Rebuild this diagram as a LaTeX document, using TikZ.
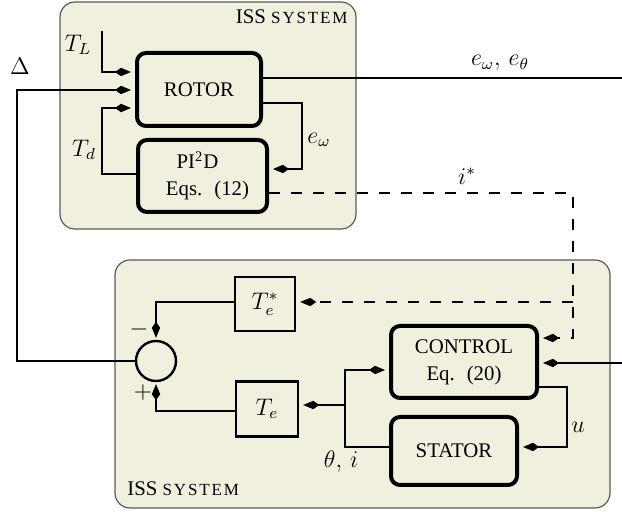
\documentclass[tikz,border=0pt]{standalone}
\usepackage{fontspec}
\setmainfont{Liberation Serif}
\usetikzlibrary{arrows.meta}
\definecolor{panelfill}{RGB}{241,239,222}
\definecolor{panelline}{RGB}{90,90,90}
\newcommand{\isssys}{ISS {\fontsize{8.5}{10}\selectfont\addfontfeatures{LetterSpace=11}SYSTEM}}
\begin{document}
\begin{tikzpicture}[x=0.5pt,y=-0.5pt,
  panel/.style={fill=panelfill,draw=panelline,line width=0.6pt,rounded corners=7.5pt},
  bigbox/.style={draw,line width=2pt,rounded corners=4.5pt,align=center,font=\fontsize{10.4}{13.5}\selectfont,inner sep=0pt},
  smallbox/.style={draw,line width=1.2pt,inner sep=0pt,font=\fontsize{11.5}{13}\selectfont},
  wire/.style={line width=1pt},
  arr/.style={wire,-{Kite[length=8pt,width=4.2pt,inset=3pt]},shorten >=2pt},
  dwire/.style={dash pattern=on 5.5pt off 5.5pt},
  lbl/.style={font=\fontsize{11.5}{13}\selectfont,inner sep=0pt},
  ptitle/.style={font=\fontsize{10.4}{12}\selectfont,inner sep=0pt},
]
\useasboundingbox (0,0) rectangle (622,512);

% panels
\draw[panel] (60,2) rectangle (356,229);
\draw[panel] (115,260) rectangle (610,508);
\node[ptitle,anchor=base east] (t1) at (348,24) {\isssys};
\node[ptitle,anchor=base west] (t2) at (127,496) {\isssys};

% blocks
\node[bigbox,minimum width=62pt,minimum height=36.5pt] (rotor) at (199,89.5) {ROTOR};
\node[bigbox,minimum width=64.5pt,minimum height=36pt] (pid) at (202.5,176)
  {PI\textsuperscript{2}D\hspace*{5pt}\\\hspace*{5pt}Eqs.\hspace{6pt}(12)};
\node[bigbox,minimum width=73pt,minimum height=36pt] (ctrl) at (464,362) {CONTROL\\Eq.\hspace{6pt}(20)};
\node[bigbox,minimum width=63pt,minimum height=34pt] (stator) at (454,451) {STATOR};
\node[smallbox,minimum width=30pt,minimum height=27pt] (tes) at (265,304) {$T_e^*$};
\node[smallbox,minimum width=31pt,minimum height=27.5pt] (te) at (267,409) {$T_e$};
\node[draw,circle,line width=1.2pt,minimum size=20pt,inner sep=0pt] (sum) at (156,361) {};

% coordinates
\coordinate (tl0) at (102,31);
\coordinate (dc) at (573,302);
\coordinate (out1) at (622,78);
\coordinate (inr) at (622,363);
\coordinate (jn) at (345,405);

% labels
\node[lbl] (lTL) at (78,45) {$T_L$};
\node[lbl] (lD) at (20,66) {$\Delta$};
\node[lbl] (lTd) at (84,150) {$T_d$};
\node[lbl] (lew) at (319,140) {$e_\omega$};
\node[lbl] (leo) at (500,63) {$e_\omega,\, e_\theta$};
\node[lbl] (lis) at (467,176) {$i^*$};
\node[lbl] (lu) at (578,427) {$u$};
\node[lbl] (lth) at (341,462) {$\theta,\, i$};
\node[lbl] (lm) at (139,330) {$-$};
\node[lbl] (lp) at (143,393) {$+$};

% rotor inputs
\draw[arr] (tl0) |- (rotor.west |- 0,72);
\draw[arr] (sum.west) -- (sum.west -| 17,0) |- (rotor.west |- 0,90);
\draw[arr] (pid.west |- 0,174) -- (pid.west |- 0,174 -| 102,0) |- (rotor.west |- 0,108);

% rotor outputs
\draw[wire] (rotor.east |- 0,78) -- (out1);
\draw[arr] (rotor.east |- 0,103) -- (302,103) |- (pid.east |- 0,169);

% dashed i*
\draw[arr,dwire] (pid.east |- 0,193) -- (573,193) |- (ctrl.east |- 0,338);
\draw[arr,dwire] (dc) -- (tes.east |- dc);

% control
\draw[arr] (inr) -- (ctrl.east |- inr);
\draw[arr] (ctrl.east |- 0,387) -- (567,387) |- (stator.east |- 0,447);
\draw[arr] (stator.west |- 0,447) -- (345,447) |- (ctrl.west |- 0,370);
\draw[arr] (jn) -- (te.east |- jn);

% summing junction
\draw[arr,shorten >=1pt] (tes.west |- 0,302) -| (sum.north);
\draw[arr,shorten >=1pt] (te.west |- 0,411) -| (sum.south);
\end{tikzpicture}
\end{document}
